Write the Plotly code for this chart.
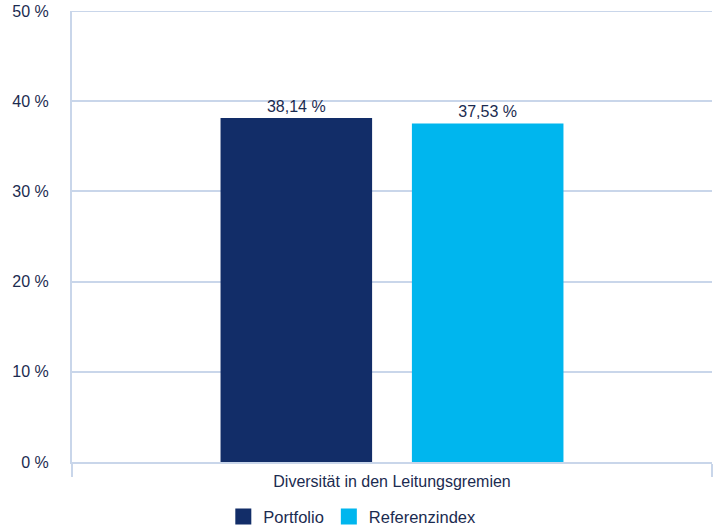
import plotly.graph_objects as go

categories = ["Diversität in den Leitungsgremien"]
series_names = ["Portfolio", "Referenzindex"]
portfolio = [38.14]
referenz = [37.53]
y_ticks = [0, 10, 20, 30, 40, 50]
y_ticklabels = ["0 %", "10 %", "20 %", "30 %", "40 %", "50 %"]

navy = "#122d68"
cyan = "#00b6ee"
text_col = "#1b2b50"
grid_col = "#c9d6ea"
font_family = "Liberation Sans, Arial, sans-serif"

fig = go.Figure()
for name, vals, col in [(series_names[0], portfolio, navy), (series_names[1], referenz, cyan)]:
    fig.add_trace(go.Bar(
        x=categories, y=vals, name=name, legendgroup=name, showlegend=False,
        marker=dict(color=col, line=dict(width=0)),
        texttemplate="%{y:.2f} %", textposition="outside",
        textfont=dict(color=text_col, size=16, family=font_family),
        cliponaxis=False,
    ))
# legend-only entries with larger square swatches
for name, col in [(series_names[0], navy), (series_names[1], cyan)]:
    fig.add_trace(go.Scatter(
        x=[None], y=[None], name=name, legendgroup=name, mode="markers",
        marker=dict(symbol="square", size=20, color=col), showlegend=True,
    ))

shapes = [dict(type="line", xref="paper", x0=xx, x1=xx,
               yref="y", ysizemode="pixel", yanchor=0, y0=0, y1=-13,
               line=dict(color=grid_col, width=2)) for xx in (0, 1)]
shapes.append(dict(type="line", xref="paper", x0=0, x1=1, yref="y",
                   y0=y_ticks[-1], y1=y_ticks[-1], layer="below",
                   line=dict(color=grid_col, width=2)))

fig.update_layout(
    width=719, height=530,
    margin=dict(l=72, r=7, t=11, b=68, autoexpand=False),
    paper_bgcolor="white", plot_bgcolor="white",
    separators=", ",
    barmode="group", bargap=0.402, bargroupgap=0.208,
    font=dict(family=font_family, color=text_col, size=16),
    showlegend=True,
    legend=dict(orientation="h", xref="container", yref="container",
                x=0.49, xanchor="center", y=0.025, yanchor="middle",
                font=dict(size=16.5, color=text_col), itemwidth=30,
                itemsizing="trace", traceorder="normal"),
    shapes=shapes,
)
fig.update_xaxes(
    automargin=False,
    showline=True, linecolor=grid_col, linewidth=2,
    ticks="outside", tickson="boundaries", ticklen=13, tickcolor=grid_col, tickwidth=2,
    showgrid=False, tickfont=dict(size=16, color=text_col),
    ticklabelstandoff=4,
)
fig.update_yaxes(
    automargin=False,
    range=[0, 50], tickvals=y_ticks, ticktext=y_ticklabels,
    showgrid=True, gridcolor=grid_col, gridwidth=2,
    showline=True, linecolor=grid_col, linewidth=2,
    zeroline=False, ticks="", tickfont=dict(size=16, color=text_col),
    ticklabelstandoff=18,
)
fig.write_html("out.html", config={"displayModeBar": False},
               post_script="document.body.style.margin='0';")
